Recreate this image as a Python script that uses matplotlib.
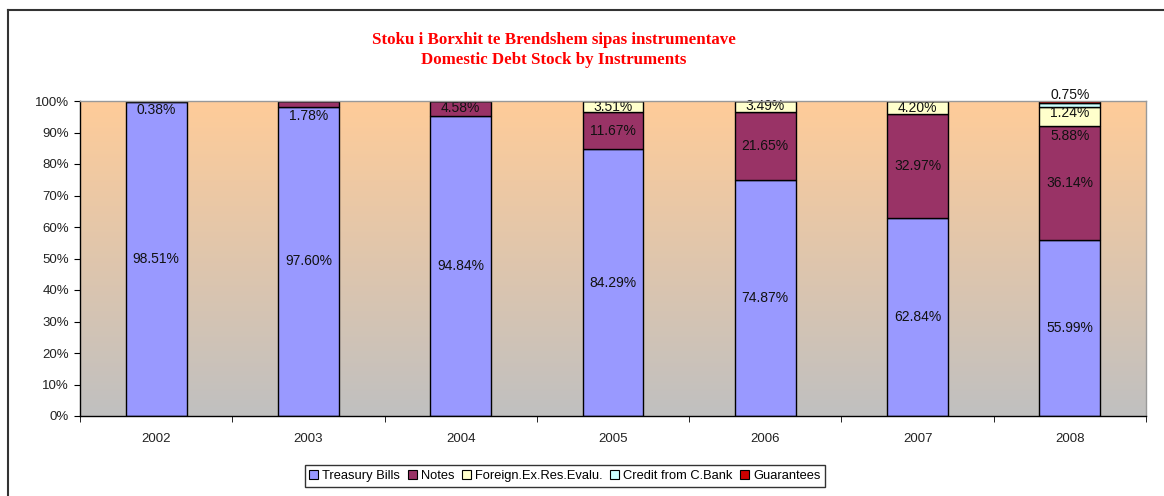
import numpy as np
import matplotlib
matplotlib.use("Agg")
import matplotlib.pyplot as plt
from matplotlib.colors import LinearSegmentedColormap
from matplotlib.lines import Line2D
from matplotlib.patches import Patch

# ---------------- data ----------------
years = ['2002', '2003', '2004', '2005', '2006', '2007', '2008']
series_names = ['Treasury Bills', 'Notes', 'Foreign.Ex.Res.Evalu.',
                'Credit from C.Bank', 'Guarantees']
treasury_bills = [98.51, 97.60, 94.84, 84.29, 74.87, 62.84, 55.99]
notes = [0.38, 1.78, 4.58, 11.67, 21.65, 32.97, 36.14]
foreign_ex = [0.0, 0.0, 0.0, 3.51, 3.49, 4.20, 5.88]
credit_cbank = [0.0, 0.0, 0.0, 0.0, 0.0, 0.0, 1.24]
guarantees = [0.0, 0.0, 0.0, 0.0, 0.0, 0.0, 0.75]
colors = ['#9999FF', '#993366', '#FFFFCC', '#CCFFFF', '#CC0000']
yticks = list(range(0, 101, 10))

# ---------------- figure ----------------
W, H = 1164, 496
fig = plt.figure(figsize=(W / 100, H / 100), dpi=100)
fig.patch.set_facecolor('white')
ax = fig.add_axes([80 / W, 1 - 416 / H, (1146 - 80) / W, (416 - 101) / H])

data = np.array([treasury_bills, notes, foreign_ex, credit_cbank, guarantees])
totals = data.sum(axis=0)
norm = data / totals * 100.0
x = np.arange(len(years))
width = 0.40

# gradient background
cmap = LinearSegmentedColormap.from_list('bg', ['#C0C0C0', '#FFCC99'])
ax.imshow(np.linspace(1, 0, 256).reshape(-1, 1), extent=(-0.5, len(years) - 0.5, 0, 100),
          aspect='auto', cmap=cmap, zorder=0, interpolation='bilinear')

bottom = np.zeros(len(years))
label_pos = {}
for i, (name, col) in enumerate(zip(series_names, colors)):
    h = norm[i]
    ax.bar(x, h, width, bottom=bottom, color=col, edgecolor='black',
           linewidth=1.0, zorder=2)
    for j in range(len(years)):
        if data[i, j] > 0:
            label_pos[(i, j)] = bottom[j] + h[j] / 2
    bottom = bottom + h

# label placement adjustments for tiny segments (as in the original)
overrides = {(1, 0): 97.0, (1, 1): 95.2, (2, 6): 89.0, (3, 6): 96.3, (4, 6): 101.9}
for (i, j), y in label_pos.items():
    y = overrides.get((i, j), y)
    ax.text(x[j], y, f"{data[i, j]:.2f}%", ha='center', va='center',
            fontsize=10, family='Liberation Sans', color='#111111', zorder=5,
            clip_on=False)

ax.set_xlim(-0.5, len(years) - 0.5)
ax.set_ylim(0, 100)
ax.set_yticks(yticks)
ax.set_yticklabels([f"{v}%" for v in yticks])
ax.set_xticks(x)
ax.set_xticklabels(years)
ax.set_xticks(np.arange(-0.5, len(years)), minor=True)
ax.tick_params(axis='x', which='major', length=0, pad=12, labelsize=9.5, labelcolor='#222222')
ax.tick_params(axis='x', which='minor', length=4, direction='out', color='black')
ax.tick_params(axis='y', length=4, direction='out', pad=4, labelsize=9.5, labelcolor='#222222')
for lab in ax.get_xticklabels() + ax.get_yticklabels():
    lab.set_family('Liberation Sans')

ax.spines['left'].set_color('black')
ax.spines['bottom'].set_color('black')
ax.spines['top'].set_color('#999999')
ax.spines['right'].set_color('#999999')
for s in ax.spines.values():
    s.set_linewidth(1.0)
    s.set_zorder(6)

# title
fig.text(554 / W, 1 - 40 / H, 'Stoku i Borxhit te Brendshem sipas instrumentave',
         ha='center', va='center', color='#FF0000', fontsize=12.2,
         fontweight='bold', family='Liberation Serif')
fig.text(554 / W, 1 - 60 / H, 'Domestic Debt Stock by Instruments',
         ha='center', va='center', color='#FF0000', fontsize=12.2,
         fontweight='bold', family='Liberation Serif')

# legend
handles = [Patch(facecolor=c, edgecolor='black', linewidth=0.8) for c in colors]
leg = fig.legend(handles, series_names, loc='center', bbox_to_anchor=(565 / W, 1 - 476 / H),
                 ncol=5, frameon=True, fancybox=False, edgecolor='black',
                 handlelength=0.7, handleheight=0.7, handletextpad=0.3,
                 columnspacing=0.6, borderpad=0.35,
                 prop={'family': 'Liberation Sans', 'size': 9.3})
leg.get_frame().set_linewidth(1.0)

# outer chart frame (left and top edges visible)
fig.add_artist(Line2D([8 / W, 8 / W], [0, 1 - 10 / H], color='#333333', lw=1.5))
fig.add_artist(Line2D([8 / W, 1], [1 - 10 / H, 1 - 10 / H], color='#333333', lw=1.5))

fig.savefig('out.png', dpi=100)
